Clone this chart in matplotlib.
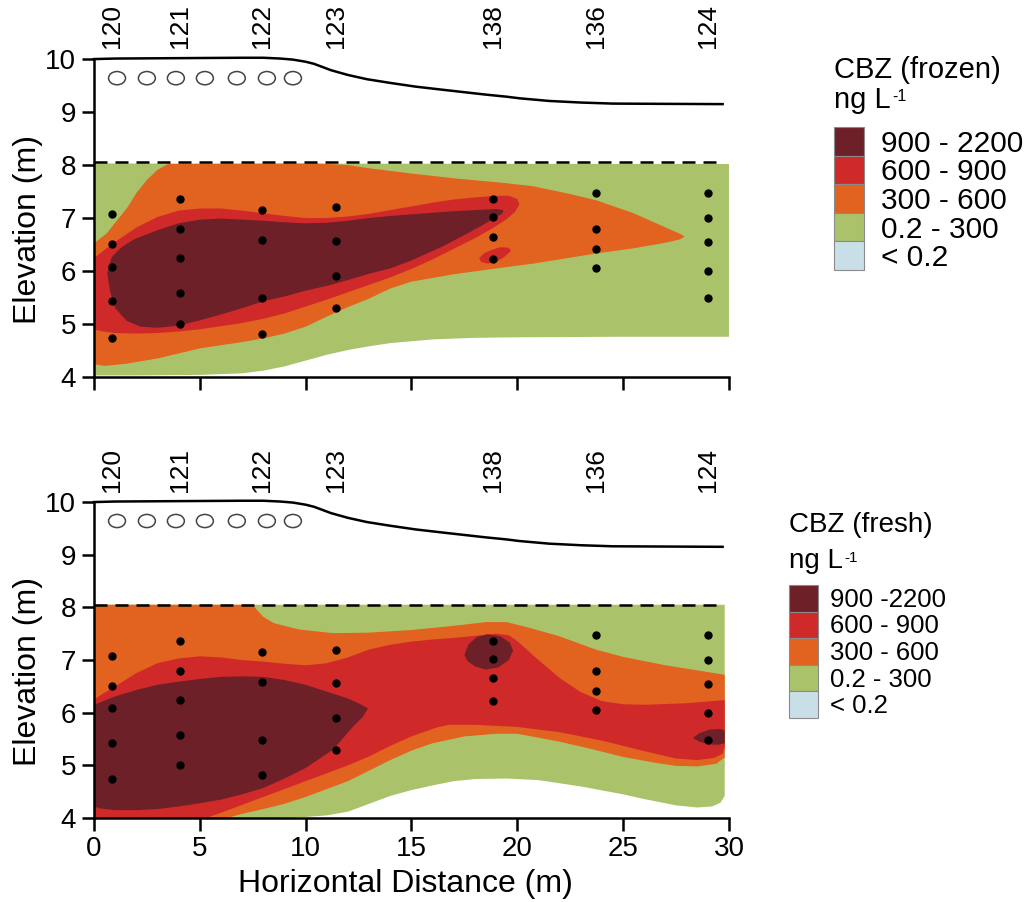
import numpy as np
import matplotlib.pyplot as plt
from matplotlib.patches import Ellipse, Rectangle

plt.rcParams['font.family'] = ['Liberation Sans', 'DejaVu Sans']

# wells and samples
well_names = ['120', '121', '122', '123', '138', '136', '124']
well_x = [0.85, 4.05, 7.95, 11.45, 18.85, 23.7, 29.0]
sample_z = [
    [7.08, 6.51, 6.08, 5.43, 4.74],
    [7.36, 6.79, 6.25, 5.58, 5.0],
    [7.15, 6.58, 5.49, 4.81],
    [7.2, 6.56, 5.9, 5.3],
    [7.36, 7.02, 6.65, 6.23],
    [7.47, 6.8, 6.42, 6.05],
    [7.47, 7.01, 6.55, 6.0, 5.49],
]

# ground surface, water table, infiltration ponds
ground_x = [0, 1, 3, 5, 7, 8, 8.8, 9.4, 10, 10.4, 10.8, 11.2, 12, 12.9, 14, 15.2,
            16.5, 18.5, 19.5, 20.1, 21.5, 23, 24.5, 27, 29.7]
ground_z = [10.0, 10.01, 10.015, 10.02, 10.025, 10.025, 10.01, 9.99, 9.95, 9.91, 9.85,
            9.79, 9.7, 9.62, 9.55, 9.48, 9.42, 9.33, 9.29, 9.26, 9.21, 9.18, 9.16, 9.155, 9.15]
water_table = 8.05
water_x = [0, 29.6]
pond_x = [1.09, 2.5, 3.87, 5.24, 6.75, 8.17, 9.4]
pond_z = 9.64

levels_frozen = ['900 - 2200', '600 - 900', '300 - 600', '0.2 - 300', '< 0.2']
levels_fresh = ['900 -2200', '600 - 900', '300 - 600', '0.2 - 300', '< 0.2']
colors = ['#6d2027', '#d0292a', '#e2621f', '#aac36b', '#c9dfe8']

# concentration zones, frozen samples (outer boundary of each class and above)
frz_green = [(0, 8.03), (30, 8.02), (30, 4.76), (25, 4.76), (20, 4.75), (18, 4.74), (16, 4.71),
             (14, 4.64), (13, 4.58), (12, 4.51), (11, 4.42), (10, 4.31), (9, 4.2), (8, 4.12),
             (7, 4.07), (5, 4.04), (2, 4.03), (0, 4.03)]
frz_orange = [(0, 6.52), (0.6, 6.71), (1.1, 6.96), (1.6, 7.21), (2.0, 7.47), (2.5, 7.72),
              (3.0, 7.91), (3.5, 8.02), (10.5, 8.03), (12, 8.0), (13, 7.94), (15, 7.84),
              (17, 7.75), (19.2, 7.67), (20.75, 7.6), (22.3, 7.47), (23.7, 7.34), (25.5, 7.09),
              (26.8, 6.86), (27.3, 6.77), (27.7, 6.7), (27.9, 6.65), (27.7, 6.6), (27.3, 6.56),
              (26.8, 6.52), (25.5, 6.43),
              (23.7, 6.33), (22.3, 6.24), (20.75, 6.14), (19.2, 6.06), (17, 5.94), (15, 5.8),
              (14, 5.67), (13, 5.48), (12, 5.32), (11, 5.14), (10, 4.95), (9, 4.82), (8, 4.73),
              (7, 4.66), (5, 4.54), (3, 4.35), (1.5, 4.25), (0.5, 4.21), (0, 4.24)]
frz_red = [(0, 6.24), (0.5, 6.4), (1, 6.55), (2, 6.82), (3, 7.02), (4, 7.14), (5, 7.18), (6, 7.18),
           (7, 7.14), (8, 7.09), (9, 7.04), (10, 7.0), (11, 7.0), (12, 7.03), (13, 7.08), (14, 7.15),
           (15, 7.22), (16, 7.29), (17, 7.35), (18, 7.39), (19, 7.42), (19.6, 7.42), (20.0, 7.36),
           (20.1, 7.26), (19.9, 7.12), (19.5, 6.98), (18.8, 6.8), (18, 6.62), (17, 6.42), (16, 6.22),
           (15, 6.04), (14, 5.88), (13, 5.74), (12, 5.6), (11, 5.46), (10, 5.33), (9, 5.2), (8, 5.1),
           (7, 5.02), (6, 4.96), (5, 4.9), (4, 4.86), (3, 4.83), (2, 4.82), (1, 4.83), (0.4, 4.86),
           (0, 4.9)]
frz_red_blob = [(18.2, 6.24), (18.4, 6.33), (18.8, 6.4), (19.2, 6.45), (19.6, 6.44), (19.7, 6.38),
                (19.4, 6.27), (19.0, 6.17), (18.6, 6.14), (18.3, 6.17)]
frz_dark = [(0.63, 5.95), (0.7, 6.1), (0.85, 6.27), (1.3, 6.45), (1.9, 6.6), (3, 6.77), (4, 6.9),
            (5, 6.97), (6, 6.99), (7, 6.97), (8, 6.95), (9, 6.92), (10, 6.9), (11, 6.91), (12, 6.95),
            (13, 7.0), (14, 7.04), (15, 7.07), (16, 7.1), (17, 7.13), (18, 7.15), (19, 7.17),
            (19.35, 7.15), (19.3, 7.09), (18.6, 6.92), (17.6, 6.7), (16.5, 6.47), (15, 6.2),
            (14, 6.05), (13, 5.95), (12, 5.83), (11, 5.72), (10, 5.63), (9, 5.52), (8, 5.43),
            (7, 5.3), (6, 5.18), (5, 5.07), (4, 4.97), (3, 4.93), (2.2, 4.95), (1.55, 5.06),
            (1.0, 5.3), (0.76, 5.62)]

# concentration zones, fresh samples
frs_green = [(0, 8.05), (29.8, 8.05), (29.8, 4.42), (29.6, 4.29), (29.2, 4.22), (28.5, 4.2),
             (27.5, 4.24), (26, 4.36), (25, 4.45), (23, 4.6), (21, 4.72), (19.5, 4.75), (18, 4.74),
             (17, 4.7), (16, 4.62), (15, 4.53), (14, 4.42), (13, 4.27), (12, 4.12), (11, 4.05),
             (10, 4.02), (8.5, 4.0), (0, 4.0)]
frs_orange = [(0, 8.05), (7.5, 8.05), (7.7, 7.95), (8.0, 7.82), (8.5, 7.7), (9.7, 7.58),
              (11.3, 7.51), (13, 7.52), (15, 7.57), (17, 7.65), (18.5, 7.72), (19.5, 7.72),
              (20.5, 7.62), (22, 7.45), (23.7, 7.2), (25, 7.06), (27, 6.9), (29.8, 6.72),
              (29.8, 5.15), (29.4, 5.03), (28.5, 4.98), (27.5, 4.99), (26.5, 5.05), (25, 5.16),
              (23.5, 5.31), (22, 5.45), (20, 5.6), (19, 5.6), (17.5, 5.55), (16, 5.42), (15, 5.28),
              (14, 5.1), (13, 4.9), (12, 4.7), (11, 4.55), (10, 4.4), (9, 4.27), (8, 4.17),
              (7, 4.08), (6.3, 4.0), (0, 4.0)]
frs_red = [(0, 6.25), (0.5, 6.38), (1, 6.5), (2, 6.75), (3, 6.94), (4, 7.03), (5, 7.07), (6, 7.05),
           (7, 7.0), (8, 6.97), (9, 6.93), (10, 6.9), (11, 6.94), (12, 7.05), (13, 7.2), (14, 7.29),
           (15, 7.35), (16, 7.39), (17, 7.42), (18, 7.46), (19, 7.5), (19.6, 7.47), (20, 7.36),
           (20.5, 7.18), (21, 7.0), (22, 6.66), (23, 6.39), (24, 6.22), (25, 6.16), (26, 6.15),
           (28, 6.18), (29.8, 6.24), (29.8, 5.35), (29.7, 5.22), (29.3, 5.14), (28.5, 5.1),
           (27.5, 5.13), (26, 5.27), (24, 5.47), (22, 5.63), (20, 5.73), (18, 5.77), (16.8, 5.77),
           (16.2, 5.72), (15, 5.55), (14, 5.37), (13, 5.17), (12, 5.0), (11, 4.85), (10, 4.7),
           (9, 4.55), (8, 4.4), (7, 4.25), (6, 4.1), (5.3, 4.0), (0, 4.0)]
frs_dark = [(0, 6.15), (1, 6.31), (2, 6.43), (3, 6.53), (4, 6.59), (5, 6.64), (6, 6.68), (7, 6.69),
            (8, 6.68), (9, 6.62), (10, 6.53), (11, 6.4), (12, 6.27), (12.6, 6.16), (12.95, 6.08),
            (12.7, 5.92), (12.25, 5.74), (11.3, 5.3), (10, 4.95), (9, 4.75), (8, 4.57), (7, 4.45),
            (6, 4.35), (5, 4.28), (4, 4.22), (3, 4.17), (2, 4.15), (1, 4.15), (0.3, 4.18), (0, 4.22)]
frs_dark_blob1 = [(17.5, 7.1), (17.7, 7.3), (18.1, 7.44), (18.6, 7.49), (19.2, 7.45), (19.65, 7.33),
                  (19.8, 7.18), (19.6, 7.0), (19.1, 6.86), (18.5, 6.82), (18.0, 6.88), (17.65, 6.98)]
frs_dark_blob2 = [(28.3, 5.52), (28.6, 5.61), (29.1, 5.68), (29.6, 5.69), (29.8, 5.66), (29.8, 5.42),
                  (29.5, 5.39), (29.0, 5.4), (28.6, 5.45)]

W, H = 1028, 902
fig = plt.figure(figsize=(W / 100, H / 100), dpi=100)


def fx(px):
    return px / W


def fy(py):
    return 1 - py / H


def draw_panel(ax, zones, xlabels):
    for poly, c in zones:
        xs, zs = zip(*poly)
        ax.fill(xs, zs, color=c, lw=0, zorder=1)
    ax.plot(water_x, [water_table] * 2, color='black', lw=1.8, ls=(0, (5.2, 3.2)), zorder=3)
    ax.plot(ground_x, ground_z, color='black', lw=1.8, zorder=3, clip_on=False)
    for px in pond_x:
        ax.add_patch(Ellipse((px, pond_z), 0.8, 0.25, fc='white', ec='#444444', lw=1.1, zorder=3))
    for wx, zs, name in zip(well_x, sample_z, well_names):
        ax.plot([wx] * len(zs), zs, 'o', color='black', ms=5, zorder=4)
        ax.text(wx, 10.2, name, rotation=90, ha='center', va='bottom', fontsize=19)
    ax.set_xlim(0, 30)
    ax.set_ylim(4, 10)
    ax.set_xticks(range(0, 31, 5))
    ax.set_yticks(range(4, 11))
    for s in ['top', 'right']:
        ax.spines[s].set_visible(False)
    for s in ['left', 'bottom']:
        ax.spines[s].set_linewidth(1.8)
    ax.tick_params(direction='out', length=9, width=1.8, labelsize=20, pad=4)
    if not xlabels:
        ax.tick_params(axis='x', labelbottom=False)
    ax.set_ylabel('Elevation (m)', fontsize=23)
    ax.yaxis.set_label_coords(-0.08, 0.465)


def draw_legend(ax, title, labels, x0, title_base, unit_base, box_top, box_h, box_w, text_x,
                fs_title, fs_lab, base_off):
    fig.text(fx(x0), fy(title_base), title, fontsize=fs_title, va='baseline', ha='left')
    unit = fig.text(fx(x0), fy(unit_base), 'ng L', fontsize=fs_title, va='baseline', ha='left')
    ax.annotate('-1', xy=(1, 1), xycoords=unit, xytext=(1, -2), textcoords='offset points',
                fontsize=fs_title * 0.55, ha='left', va='top', annotation_clip=False)
    for i, (lab, c) in enumerate(zip(labels, colors)):
        top = box_top + i * box_h
        fig.patches.append(Rectangle((fx(x0), fy(top + box_h)), box_w / W, box_h / H,
                                     transform=fig.transFigure, fc=c, ec='#8a8a8a', lw=0.8))
        fig.text(fx(text_x), fy(top + box_h / 2 + base_off), lab, fontsize=fs_lab,
                 va='baseline', ha='left')


ax1 = fig.add_axes([0.0914, 0.582, 0.6177, 0.3525])
draw_panel(ax1, [(frz_green, colors[3]), (frz_orange, colors[2]), (frz_red, colors[1]),
                 (frz_red_blob, colors[1]), (frz_dark, colors[0])], xlabels=False)

ax2 = fig.add_axes([0.0914, 0.0931, 0.6177, 0.3503])
draw_panel(ax2, [(frs_green, colors[3]), (frs_orange, colors[2]), (frs_red, colors[1]),
                 (frs_dark, colors[0]), (frs_dark_blob1, colors[0]), (frs_dark_blob2, colors[0])],
           xlabels=True)
ax2.set_xlabel('Horizontal Distance (m)', fontsize=23)
ax2.xaxis.set_label_coords(0.49, -0.16)

draw_legend(ax1, 'CBZ (frozen)', levels_frozen, 834, 78, 108, 127, 28.6, 30, 881, 21, 21.5, 10.5)
draw_legend(ax2, 'CBZ (fresh)', levels_fresh, 789, 532, 568, 585, 26.6, 29, 830, 20, 18.5, 8.5)

fig.savefig('out.png', dpi=100)
